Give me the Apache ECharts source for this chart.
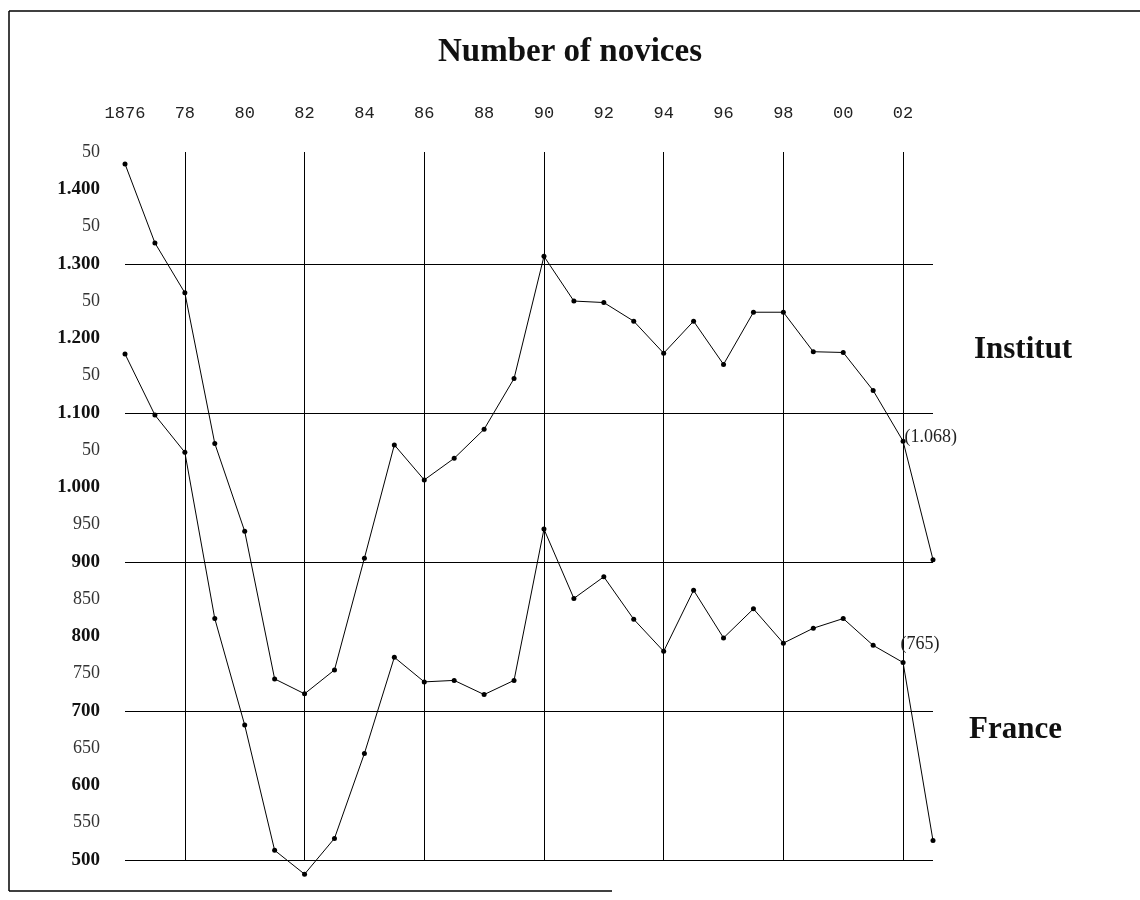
<!DOCTYPE html>
<html>
<head>
<meta charset="utf-8">
<title>Number of novices</title>
<script src="https://cdn.jsdelivr.net/npm/echarts@6/dist/echarts.min.js"></script>
<style>
    html, body { margin: 0; padding: 0; background: #fff; }
    #chart { width: 1140px; height: 900px; }
</style>
</head>
<body>
<div id="chart"></div>
<script>
// years on the top axis
const years = [1876, 1877, 1878, 1879, 1880, 1881, 1882, 1883, 1884, 1885,
    1886, 1887, 1888, 1889, 1890, 1891, 1892, 1893, 1894, 1895,
    1896, 1897, 1898, 1899, 1900, 1901, 1902, 1903];

// novices, whole Institut
const institut = [1434, 1328, 1261, 1059, 941, 743, 723, 755, 905, 1057,
    1010, 1039, 1078, 1146, 1310, 1250, 1248, 1223, 1180, 1223,
    1165, 1235, 1235, 1182, 1181, 1130, 1062, 903];

// novices, France only
const france = [1179, 1097, 1047, 824, 681, 513, 481, 529, 643, 772,
    739, 741, 722, 741, 944, 851, 880, 823, 780, 862,
    798, 837, 791, 811, 824, 788, 765, 526];

const noteYear = 1902;
const institutNote = '(1.068)';
const franceNote = '(765)';

const serif = '"Liberation Serif", "Times New Roman", serif';

function yearLabel(v) {
    if (v === 1876) return '1876';
    if (v > 1902) return '';
    return String(v).slice(2);
}

function countLabel(v) {
    let txt;
    if (v >= 1000 && v % 100 !== 0) {
        txt = '50';
    } else if (v >= 1000) {
        txt = Math.floor(v / 1000) + '.' + String(v % 1000).padStart(3, '0');
    } else {
        txt = String(v);
    }
    return (v % 100 === 0 ? '{b|' : '{l|') + txt + '}';
}

function buildData(values, note, offset) {
    return years.map((y, i) => {
        let item = { value: [y, values[i]] };
        if (y === noteYear) {
            item.label = {
                show: true,
                formatter: note,
                position: 'right',
                offset: offset,
                fontFamily: serif,
                fontSize: 18,
                color: '#222'
            };
        }
        return item;
    });
}

var chart = echarts.init(document.getElementById('chart'));
var option = {
    animation: false,
    backgroundColor: '#fff',
    title: {
        text: 'Number of novices',
        left: 'center',
        top: 31,
        textStyle: {
            fontFamily: serif,
            fontWeight: 'bold',
            fontSize: 33,
            color: '#111'
        }
    },
    grid: {
        left: 125,
        right: 207,
        top: 152,
        bottom: 40
    },
    xAxis: {
        type: 'value',
        position: 'top',
        min: 1876,
        max: 1903,
        interval: 2,
        axisLine: { show: false },
        axisTick: { show: false },
        axisLabel: {
            margin: 30,
            formatter: yearLabel,
            fontFamily: '"Liberation Mono", monospace',
            fontSize: 17,
            color: '#222'
        },
        splitLine: {
            show: true,
            lineStyle: { color: ['transparent', '#000'], width: 1 }
        }
    },
    yAxis: {
        type: 'value',
        min: 500,
        max: 1450,
        interval: 50,
        axisLine: { show: false },
        axisTick: { show: false },
        axisLabel: {
            margin: 25,
            formatter: countLabel,
            rich: {
                b: { fontFamily: serif, fontWeight: 'bold', fontSize: 19, color: '#111' },
                l: { fontFamily: serif, fontSize: 18, color: '#333' }
            }
        },
        splitLine: {
            show: true,
            lineStyle: { color: ['#000', 'transparent', 'transparent', 'transparent'], width: 1 }
        }
    },
    series: [
        {
            name: 'Institut',
            type: 'line',
            clip: false,
            data: buildData(institut, institutNote, [-6, -4]),
            symbol: 'circle',
            symbolSize: 5,
            itemStyle: { color: '#000' },
            lineStyle: { color: '#000', width: 1 },
            z: 5
        },
        {
            name: 'France',
            type: 'line',
            clip: false,
            data: buildData(france, franceNote, [-10, -18]),
            symbol: 'circle',
            symbolSize: 5,
            itemStyle: { color: '#000' },
            lineStyle: { color: '#000', width: 1 },
            z: 5
        }
    ],
    graphic: [
        // frame of the scanned figure
        { type: 'line', shape: { x1: 9, y1: 11, x2: 1140, y2: 11 }, style: { stroke: '#000', lineWidth: 1.5 } },
        { type: 'line', shape: { x1: 9, y1: 11, x2: 9, y2: 891 }, style: { stroke: '#000', lineWidth: 1.5 } },
        { type: 'line', shape: { x1: 9, y1: 891, x2: 612, y2: 891 }, style: { stroke: '#000', lineWidth: 1.5 } },
        {
            type: 'text', left: 974, top: 334,
            style: { text: 'Institut', font: 'bold 31px ' + serif, fill: '#111' }
        },
        {
            type: 'text', left: 969, top: 714,
            style: { text: 'France', font: 'bold 31px ' + serif, fill: '#111' }
        }
    ]
};
chart.setOption(option);
</script>
</body>
</html>
